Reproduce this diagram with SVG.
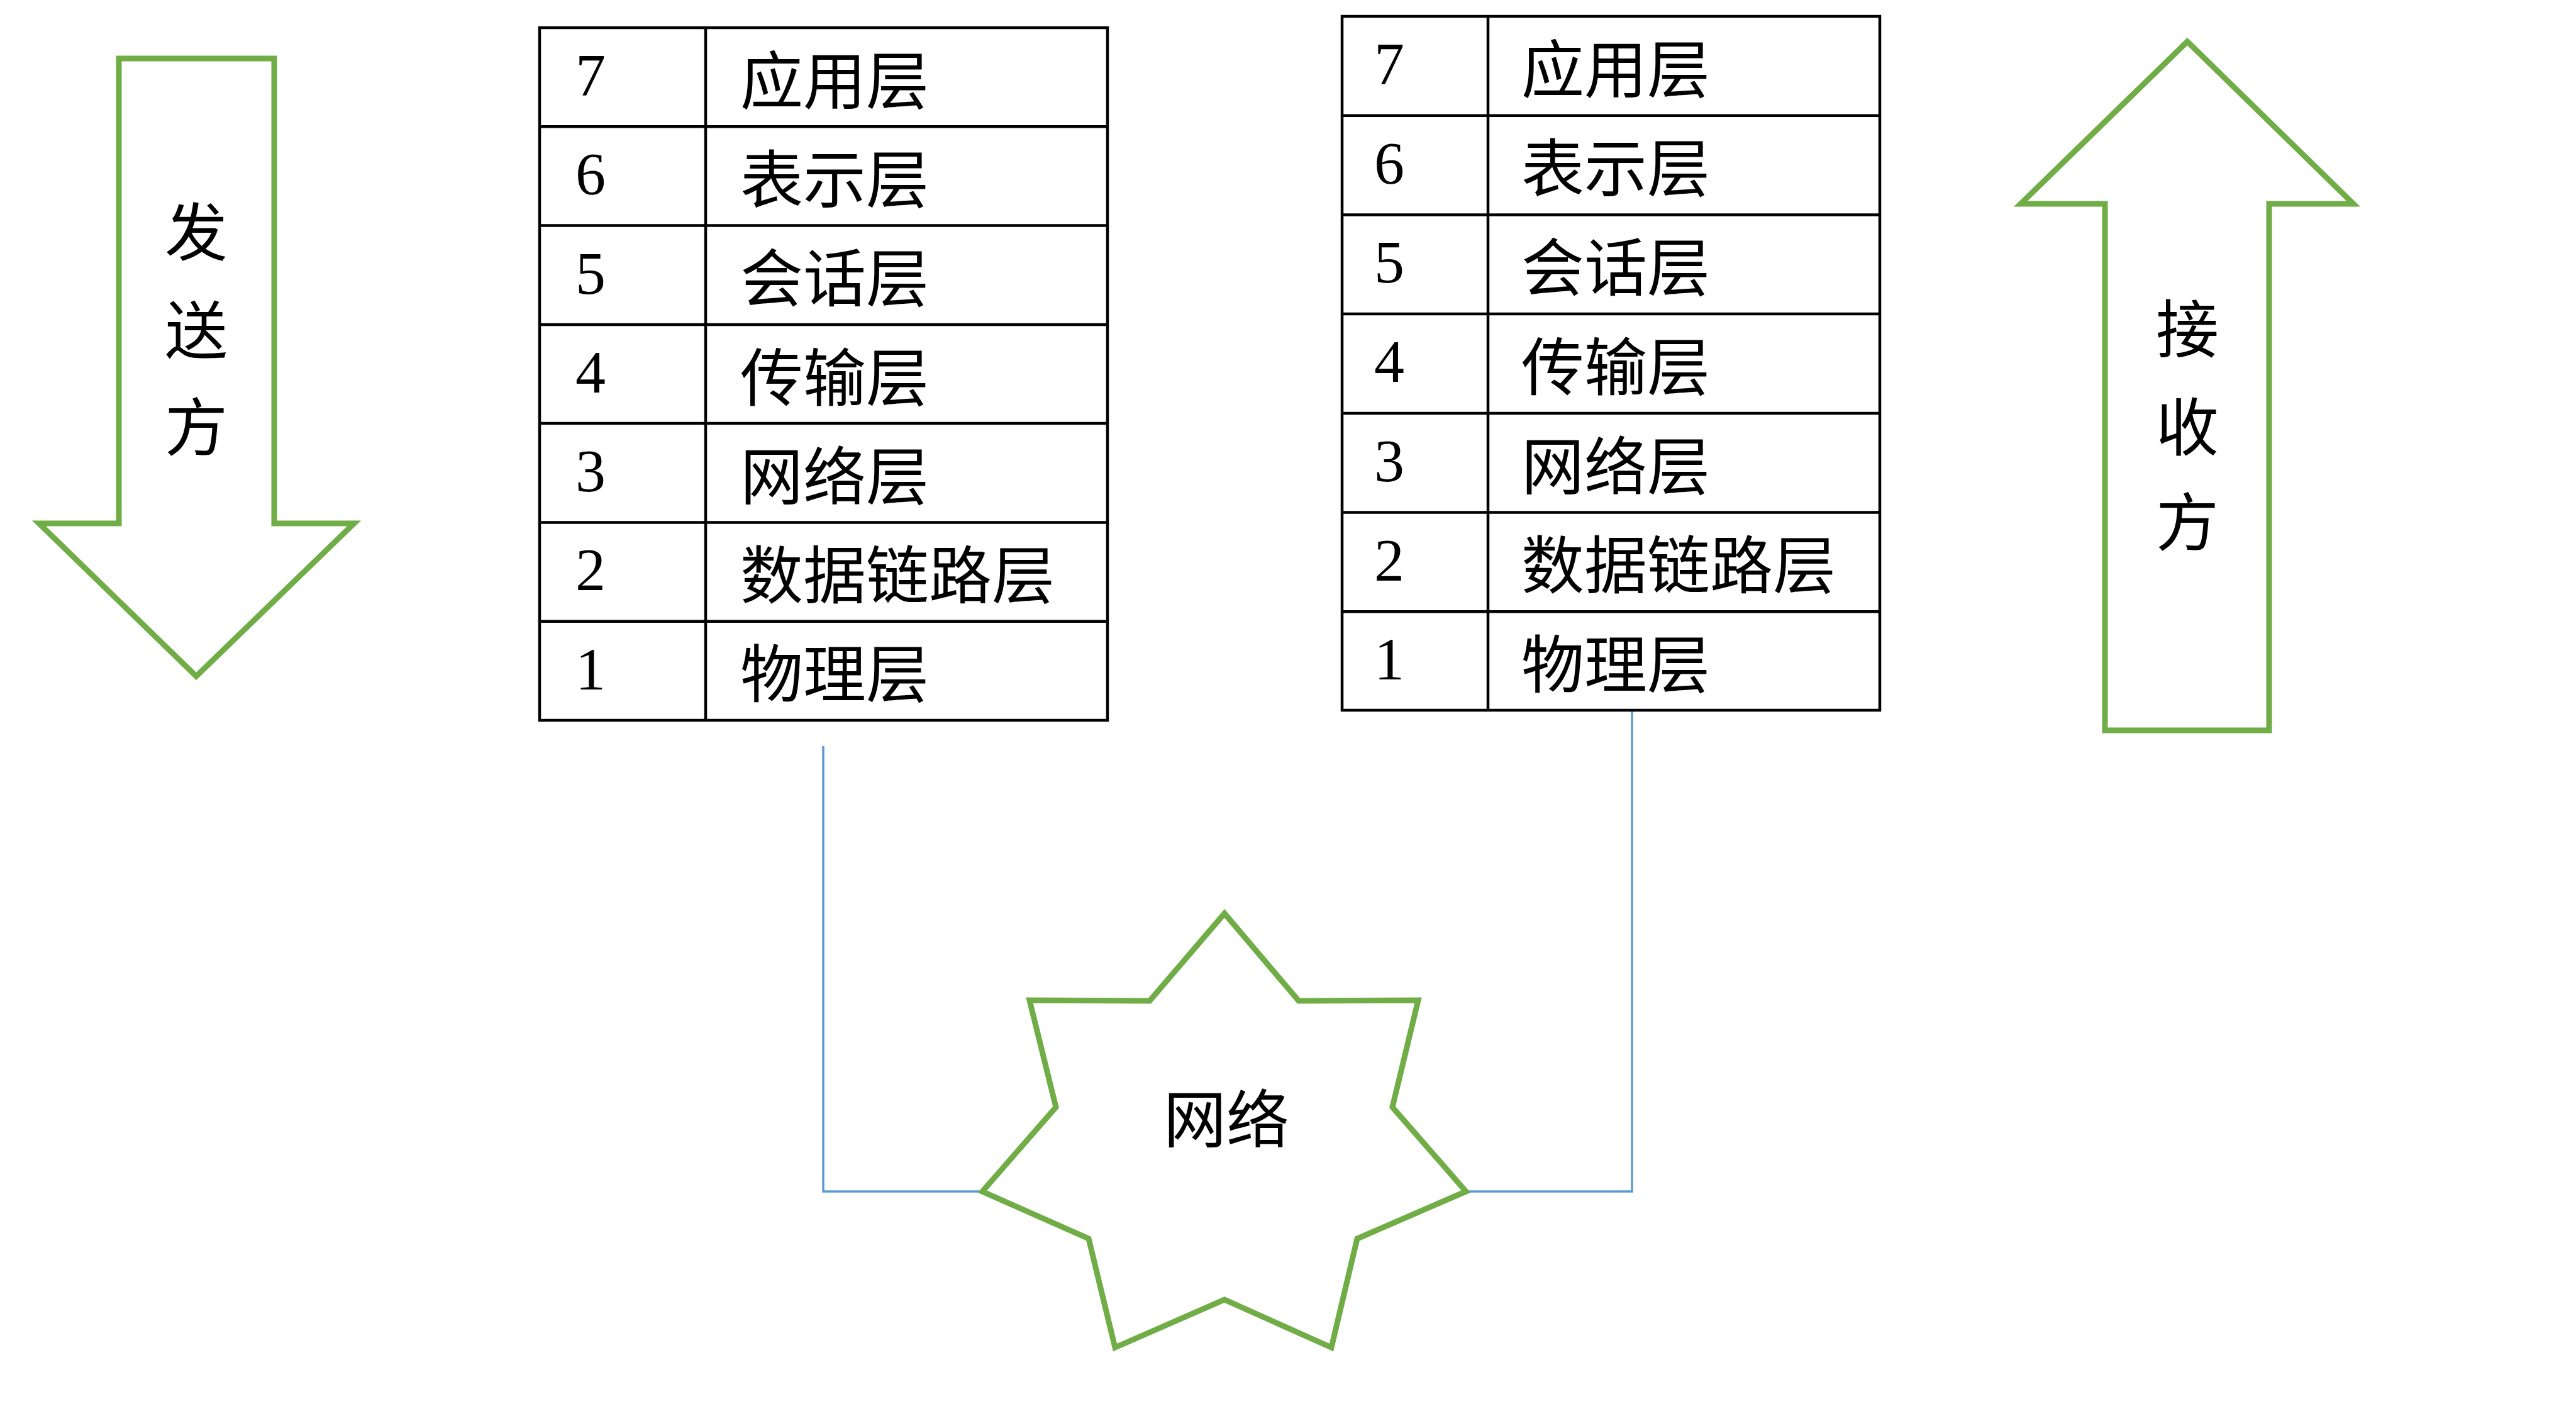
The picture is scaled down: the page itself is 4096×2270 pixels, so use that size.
<svg xmlns="http://www.w3.org/2000/svg" width="4096" height="2270" viewBox="0 0 4096 2270">
<style>
.bg{fill:#ffffff}
.green{fill:#ffffff;stroke:#70AD47;stroke-width:9;stroke-linejoin:miter}
.cell{fill:#ffffff;stroke:#000000;stroke-width:4.5}
.grid{stroke:#000000;stroke-width:4.5;fill:none}
.conn{fill:none;stroke:#5B9BD5;stroke-width:3.5}
.cjk{font-family:"Noto Sans CJK SC","Noto Sans CJK TC",sans-serif;font-size:100px;fill:#000000}
.num{font-family:"Liberation Serif","DejaVu Serif",serif;font-size:96px;fill:#000000;text-anchor:middle}
.mid{text-anchor:middle}
</style>
<rect class="bg" x="0" y="0" width="4096" height="2270"/>

<g id="connectors">
  <polyline class="conn" points="1309,1186 1309,1894 1562,1894"/>
  <polyline class="conn" points="2331,1894 2595,1894 2595,1125"/>
</g>

<g id="sender-arrow">
  <polygon class="green" points="189,93 436,93 436,832 563,832 312,1075 62,832 189,832"/>
  <text class="cjk mid" x="312" y="406">发</text>
  <text class="cjk mid" x="312" y="562">送</text>
  <text class="cjk mid" x="312" y="716">方</text>
</g>

<g id="receiver-arrow">
  <polygon class="green" points="3478,66 3742,324 3608,324 3608,1161 3347,1161 3347,324 3213,324"/>
  <text class="cjk mid" x="3478" y="560">接</text>
  <text class="cjk mid" x="3478" y="716">收</text>
  <text class="cjk mid" x="3478" y="867">方</text>
</g>

<g id="sender-stack">
  <rect class="cell" x="858" y="44" width="903" height="1101"/>
  <path class="grid" d="M1122,44V1145 M858,201.3H1761 M858,358.6H1761 M858,515.9H1761 M858,673.1H1761 M858,830.4H1761 M858,987.7H1761"/>
  <text class="num" x="939" y="152">7</text>
  <text class="num" x="939" y="309.3">6</text>
  <text class="num" x="939" y="466.6">5</text>
  <text class="num" x="939" y="623.9">4</text>
  <text class="num" x="939" y="781.1">3</text>
  <text class="num" x="939" y="938.4">2</text>
  <text class="num" x="939" y="1095.7">1</text>
  <text class="cjk" x="1177" y="164.6">应用层</text>
  <text class="cjk" x="1177" y="321.9">表示层</text>
  <text class="cjk" x="1177" y="479.2">会话层</text>
  <text class="cjk" x="1177" y="636.5">传输层</text>
  <text class="cjk" x="1177" y="793.7">网络层</text>
  <text class="cjk" x="1177" y="951">数据链路层</text>
  <text class="cjk" x="1177" y="1108.3">物理层</text>
</g>

<g id="receiver-stack">
  <rect class="cell" x="2134" y="26" width="855" height="1103"/>
  <path class="grid" d="M2366,26V1129 M2134,183.7H2989 M2134,341.4H2989 M2134,499.1H2989 M2134,656.9H2989 M2134,814.6H2989 M2134,972.3H2989"/>
  <text class="num" x="2209" y="134">7</text>
  <text class="num" x="2209" y="291.7">6</text>
  <text class="num" x="2209" y="449.4">5</text>
  <text class="num" x="2209" y="607.1">4</text>
  <text class="num" x="2209" y="764.9">3</text>
  <text class="num" x="2209" y="922.6">2</text>
  <text class="num" x="2209" y="1080.3">1</text>
  <text class="cjk" x="2419" y="146.6">应用层</text>
  <text class="cjk" x="2419" y="304.3">表示层</text>
  <text class="cjk" x="2419" y="462">会话层</text>
  <text class="cjk" x="2419" y="619.7">传输层</text>
  <text class="cjk" x="2419" y="777.5">网络层</text>
  <text class="cjk" x="2419" y="935.2">数据链路层</text>
  <text class="cjk" x="2419" y="1092.9">物理层</text>
</g>

<g id="network">
  <polygon class="green" points="1947,1452 2065,1591 2255,1590 2214,1760 2331,1894 2158,1969 2117,2142 1947,2066 1773,2142 1731,1969 1562,1894 1679,1760 1637,1590 1828,1591"/>
  <text class="cjk mid" x="1950" y="1816">网络</text>
</g>
</svg>
